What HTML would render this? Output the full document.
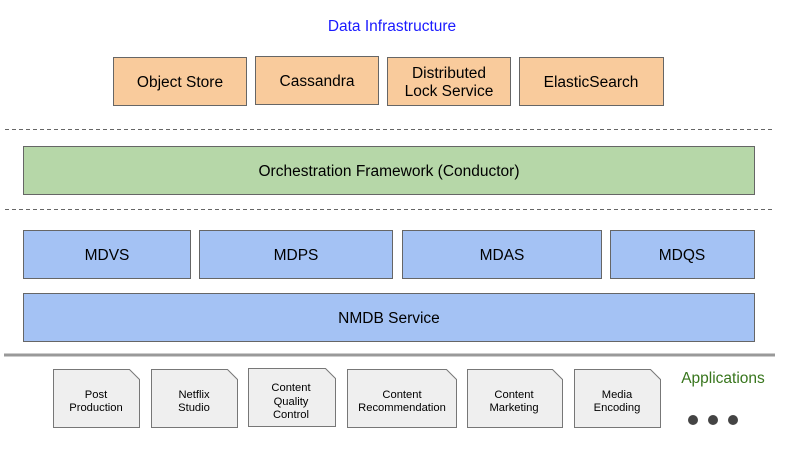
<!DOCTYPE html>
<html><head><meta charset="utf-8"><style>
html,body{margin:0;padding:0;background:#fff;}
svg{display:block;font-family:"Liberation Sans",Arial,sans-serif;}
</style></head><body>
<svg width="800" height="450" viewBox="0 0 800 450" xmlns="http://www.w3.org/2000/svg">
<text x="392" y="31" font-size="15.5" fill="#1a1aff" text-anchor="middle">Data Infrastructure</text>
<g fill="#f9cb9c" stroke="#666" stroke-width="1">
<rect x="113.5" y="57.5" width="133" height="48"/>
<rect x="255.5" y="56.5" width="123" height="48"/>
<rect x="387.5" y="57.5" width="123" height="48"/>
<rect x="519.5" y="57.5" width="144" height="48"/>
</g>
<g font-size="15.5" fill="#000" text-anchor="middle">
<text x="180" y="87">Object Store</text>
<text x="317" y="86">Cassandra</text>
<text x="449" y="78">Distributed</text>
<text x="449" y="96">Lock Service</text>
<text x="591" y="87">ElasticSearch</text>
</g>
<g stroke="#666" stroke-dasharray="4,3" stroke-width="1">
<line x1="5" y1="129.5" x2="772" y2="129.5"/>
<line x1="5" y1="209.5" x2="772" y2="209.5"/>
</g>
<rect x="23.5" y="146.5" width="731" height="48" fill="#b6d7a8" stroke="#666"/>
<text x="389" y="176" font-size="15.5" text-anchor="middle">Orchestration Framework (Conductor)</text>
<g fill="#a4c2f4" stroke="#666">
<rect x="23.5" y="230.5" width="167" height="48"/>
<rect x="199.5" y="230.5" width="193" height="48"/>
<rect x="402.5" y="230.5" width="199" height="48"/>
<rect x="610.5" y="230.5" width="144" height="48"/>
<rect x="23.5" y="293.5" width="731" height="48"/>
</g>
<g font-size="15.5" text-anchor="middle">
<text x="107" y="260">MDVS</text>
<text x="296" y="260">MDPS</text>
<text x="502" y="260">MDAS</text>
<text x="682" y="260">MDQS</text>
<text x="389" y="323">NMDB Service</text>
</g>
<line x1="4" y1="355" x2="775" y2="355" stroke="#999" stroke-width="3"/>
<g fill="#efefef" stroke="#777" stroke-width="1">
<path d="M53.5 369.5 H129.5 L139.5 379.5 V427.5 H53.5 Z"/>
<path d="M151.5 369.5 H227.5 L237.5 379.5 V427.5 H151.5 Z"/>
<path d="M248.5 368.5 H325.5 L335.5 378.5 V426.5 H248.5 Z"/>
<path d="M347.5 369.5 H446.5 L456.5 379.5 V427.5 H347.5 Z"/>
<path d="M467.5 369.5 H552.5 L562.5 379.5 V427.5 H467.5 Z"/>
<path d="M574.5 369.5 H650.5 L660.5 379.5 V427.5 H574.5 Z"/>
</g>
<g font-size="11.2" text-anchor="middle" fill="#000">
<text x="96" y="398">Post</text><text x="96" y="411">Production</text>
<text x="194" y="398">Netflix</text><text x="194" y="411">Studio</text>
<text x="291" y="391">Content</text><text x="291" y="405">Quality</text><text x="291" y="418">Control</text>
<text x="402" y="398">Content</text><text x="402" y="411">Recommendation</text>
<text x="514" y="398">Content</text><text x="514" y="411">Marketing</text>
<text x="617" y="398">Media</text><text x="617" y="411">Encoding</text>
</g>
<text x="723" y="383" font-size="15.5" fill="#38761d" text-anchor="middle">Applications</text>
<g fill="#444">
<circle cx="693" cy="420" r="5"/>
<circle cx="713" cy="420" r="5"/>
<circle cx="733" cy="420" r="5"/>
</g>
</svg>
</body></html>
